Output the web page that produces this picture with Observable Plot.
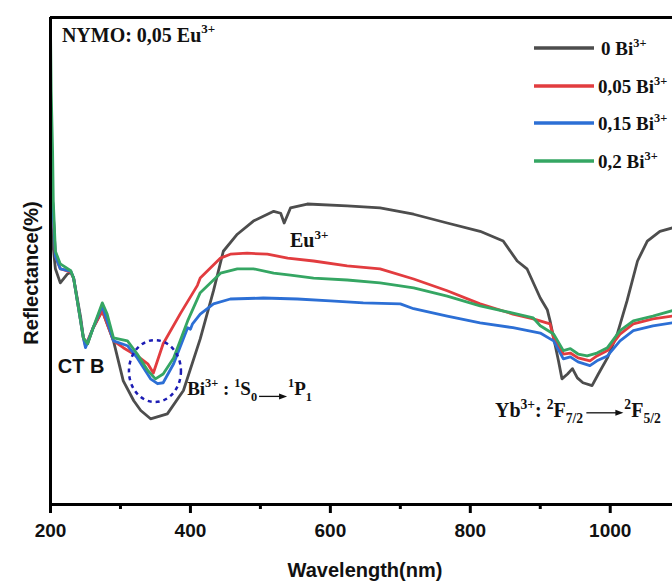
<!DOCTYPE html>
<html>
<head>
<meta charset="utf-8">
<script src="https://cdn.jsdelivr.net/npm/d3@7"></script>
<script src="https://cdn.jsdelivr.net/npm/@observablehq/plot@0.6"></script>
<style>
  html, body { margin: 0; padding: 0; background: #fff; }
  #chart svg { display: block; }
</style>
</head>
<body>
<div id="chart"></div>
<script>
// ---------- data ----------
const seriesNames = ["0 Bi", "0,05 Bi", "0,15 Bi", "0,2 Bi"];
const seriesColors = ["#4d4d4d", "#e23c3f", "#2c6fd5", "#35a663"];

const wlGray = [200,203,207,214,224,229,233,243,247,253,261,274,290,304,319,329,343,367,390,414,433,447,467,490,519,529,534,543,567,624,671,719,767,814,847,867,881,900,910,914,926,931,939,946,953,961,974,983,996,1010,1024,1039,1053,1071,1089];
const rGray  = [59.0,54.1,48.4,45.5,47.3,47.7,46.5,38.5,34.2,33.0,36.3,39.8,33.6,25.4,21.3,19.3,17.6,18.6,23.4,34.0,43.9,52.0,55.5,58.2,60.2,59.8,57.8,60.9,61.7,61.3,60.9,59.6,57.8,56.1,54.1,50.0,48.4,42.4,40.0,37.7,29.5,25.8,26.8,27.9,26.0,25.0,24.4,26.8,30.1,35.0,41.8,50.0,54.1,56.1,56.8];

const wlRed = [200,203,207,214,229,233,247,250,261,274,290,304,324,339,347,361,386,410,414,443,457,481,510,539,576,624,671,719,767,814,861,890,914,919,933,943,954,971,981,996,1014,1033,1061,1089];
const rRed  = [69.9,62.3,51.0,48.4,47.7,46.5,34.2,32.6,36.3,39.8,33.6,32.2,30.5,28.9,27.0,33.0,39.3,45.0,46.5,50.6,51.4,51.6,51.4,50.6,50.0,49.0,48.4,46.3,43.9,41.2,39.1,38.1,37.1,34.2,30.9,31.1,30.1,29.5,30.5,31.6,35.0,37.1,38.1,38.7];

const wlBlue = [200,203,207,214,229,233,247,250,261,274,290,310,324,343,353,361,376,396,400,403,414,433,457,504,553,600,647,700,719,767,814,861,900,919,933,943,954,971,981,996,1014,1033,1061,1089];
const rBlue  = [74.0,62.3,51.0,48.4,47.9,46.5,34.2,32.2,36.3,40.8,33.6,32.6,30.1,25.8,24.8,25.0,28.9,36.3,36.0,37.1,39.1,41.2,42.2,42.4,42.2,41.8,41.4,41.2,40.2,38.7,37.3,36.3,35.2,33.6,29.9,30.3,29.3,28.5,29.5,30.5,33.6,35.7,36.7,37.3];

const wlGreen = [200,201,203,204,207,214,229,233,247,253,261,274,281,290,310,324,339,350,361,376,396,414,443,467,490,519,543,576,624,671,719,767,814,861,890,900,919,933,943,954,967,981,996,1014,1033,1061,1089];
const rGreen  = [97.7,84.8,72.5,62.3,52.0,49.4,48.0,46.5,34.2,33.0,36.3,41.4,39.1,34.2,33.6,30.9,27.5,25.8,26.8,30.1,37.7,43.5,47.5,48.4,48.4,47.5,47.1,46.5,46.1,45.5,44.5,42.8,40.8,39.3,38.3,36.7,35.0,31.6,32.0,30.9,30.5,31.1,32.2,35.7,37.7,38.7,39.8];

const majorTicks = [200, 400, 600, 800, 1000];
const minorTicks = [300, 500, 700, 900];
const xDomain = [200, 1089];
const yDomain = [0, 100];

// annotation anchors (data coordinates)
const noteNYMO = {wl: 217, r: 94.9};
const noteEu   = {wl: 543, r: 52.7};
const noteCTB  = {wl: 211, r: 26.8};
const noteBi   = {wl: 396, r: 22.3};
const noteYb   = {wl: 836, r: 17.8};
const circleBi = {wl: 350, r: 27.3};

// ---------- build table ----------
const wls = [wlGray, wlRed, wlBlue, wlGreen];
const rs = [rGray, rRed, rBlue, rGreen];
const rows = seriesNames.flatMap((name, i) => wls[i].map((w, j) => ({series: name, wl: w, r: rs[i][j]})));

const SANS = "'Liberation Sans', Arial, sans-serif";
const SERIF = "'Liberation Serif', 'Times New Roman', serif";

const plot = Plot.plot({
  width: 672,
  height: 586,
  marginLeft: 50,
  marginRight: 0,
  marginTop: 17,
  marginBottom: 82,
  style: {fontFamily: SANS, background: "#fff"},
  x: {domain: xDomain, axis: null},
  y: {domain: yDomain, axis: null},
  color: {domain: seriesNames, range: seriesColors},
  marks: [
    Plot.line(rows, {x: "wl", y: "r", z: "series", stroke: "series", strokeWidth: 2.8, curve: "linear"}),
    Plot.ruleY([yDomain[1]], {stroke: "#000", strokeWidth: 3}),
    Plot.ruleX([xDomain[0]], {stroke: "#000", strokeWidth: 3}),
    Plot.ruleY([yDomain[0]], {stroke: "#000", strokeWidth: 3}),
    Plot.axisX({ticks: majorTicks, tickSize: 9, tickPadding: 10, strokeWidth: 3, stroke: "#000",
      tickFormat: d => String(d), fontSize: 19, fontWeight: "bold", fill: "#111", label: null}),
    Plot.axisX({ticks: minorTicks, tickSize: 5, strokeWidth: 3, stroke: "#000", tickFormat: () => "", label: null})
  ]
});

document.getElementById("chart").append(plot);

const sx = plot.scale("x"), sy = plot.scale("y");
const svg = d3.select(plot);
const g = svg.append("g").attr("text-anchor", "start");

function rich(x, y, parts, fs, family, subScale = 0.65) {
  const t = g.append("text").attr("x", x).attr("y", y).attr("text-anchor", "start")
    .attr("font-family", family).attr("font-weight", "bold")
    .attr("font-size", fs).attr("fill", "#111");
  let shift = 0;
  for (const [s, k] of parts) {
    const target = k === "sup" ? -0.42 * fs : k === "sub" ? 0.3 * fs : 0;
    t.append("tspan").attr("dy", target - shift)
      .attr("font-size", (k === "sup" || k === "sub") ? subScale * fs : fs)
      .text(s);
    shift = target;
  }
  return t;
}
function endX(t) { const b = t.node().getBBox(); return b.x + b.width; }
function arrow(x1, x2, y) {
  g.append("line").attr("x1", x1).attr("x2", x2 - 6).attr("y1", y).attr("y2", y)
    .attr("stroke", "#111").attr("stroke-width", 1.3);
  g.append("path").attr("d", `M${x2},${y} L${x2 - 8},${y - 3} L${x2 - 8},${y + 3} Z`).attr("fill", "#111");
}

// axis titles
g.append("text").attr("x", 365).attr("y", 577).attr("text-anchor", "middle")
  .attr("font-family", SANS).attr("font-weight", "bold").attr("font-size", 20).attr("fill", "#111")
  .text("Wavelength(nm)");
g.append("text").attr("transform", "translate(38,273) rotate(-90)").attr("text-anchor", "middle")
  .attr("font-family", SANS).attr("font-weight", "bold").attr("font-size", 20).attr("fill", "#111")
  .text("Reflectance(%)");

// legend
const legendY = [48, 86, 123, 161];
seriesNames.forEach((name, i) => {
  g.append("line").attr("x1", 534).attr("x2", 594).attr("y1", legendY[i]).attr("y2", legendY[i])
    .attr("stroke", seriesColors[i]).attr("stroke-width", 3.3);
  rich(i === 0 ? 601 : 598, legendY[i] + 6.5, [[name], ["3+", "sup"]], 19, SERIF);
});

// annotations
rich(sx.apply(noteNYMO.wl), sy.apply(noteNYMO.r), [["NYMO: 0,05 Eu"], ["3+", "sup"]], 20, SERIF);
rich(sx.apply(noteEu.wl), sy.apply(noteEu.r), [["Eu"], ["3+", "sup"]], 20, SERIF);
g.append("text").attr("x", sx.apply(noteCTB.wl)).attr("y", sy.apply(noteCTB.r)).attr("text-anchor", "start")
  .attr("font-family", SANS).attr("font-weight", "bold").attr("font-size", 20).attr("fill", "#111")
  .text("CT B");

// Bi label
{
  const bx = sx.apply(noteBi.wl), by = sy.apply(noteBi.r);
  const t1 = rich(bx, by, [["Bi"], ["3+", "sup"], [" : "], ["1", "sup"], ["S"], ["0", "sub"]], 19, SERIF);
  const e = endX(t1);
  arrow(e + 2, e + 30, by + 1);
  rich(e + 31, by, [["1", "sup"], ["P"], ["1", "sub"]], 19, SERIF);
}
// Yb label
{
  const yx = sx.apply(noteYb.wl), yy = sy.apply(noteYb.r);
  const t1 = rich(yx, yy, [["Yb"], ["3+", "sup"], [": "], ["2", "sup"], ["F"], ["7/2", "sub"]], 20, SERIF, 0.68);
  const e = endX(t1);
  arrow(e + 3, e + 40, yy - 4.5);
  rich(e + 41, yy, [["2", "sup"], ["F"], ["5/2", "sub"]], 20, SERIF, 0.68);
}

// dashed ellipse around the Bi3+ band
g.append("ellipse").attr("cx", sx.apply(circleBi.wl)).attr("cy", sy.apply(circleBi.r))
  .attr("rx", 26).attr("ry", 31).attr("fill", "none")
  .attr("stroke", "#1c1cb4").attr("stroke-width", 2.5).attr("stroke-dasharray", "4,4");
</script>
</body>
</html>
